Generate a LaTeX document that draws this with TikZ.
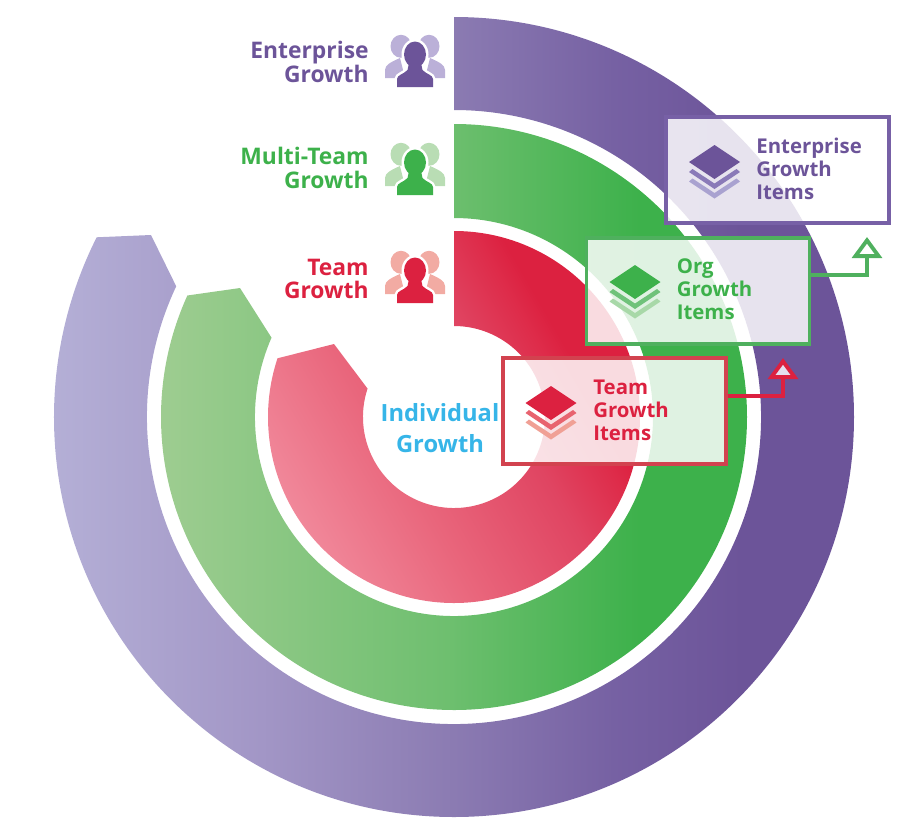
\documentclass[tikz,border=0pt]{standalone}
\usepackage{fontspec}
\setmainfont{Open Sans}
\usetikzlibrary{arrows.meta,positioning}
\definecolor{entcolor}{HTML}{6C5499}
\definecolor{entbar}{HTML}{7760A6}
\definecolor{entlite}{HTML}{BBB0D8}
\definecolor{entmid}{HTML}{8A7AB8}
\definecolor{entpale}{HTML}{A9A2D0}
\definecolor{orgcolor}{HTML}{3DB14B}
\definecolor{orgbar}{HTML}{4FB05E}
\definecolor{orglite}{HTML}{B9DDB4}
\definecolor{orgmid}{HTML}{6FC27A}
\definecolor{orgpale}{HTML}{A8D8A8}
\definecolor{teamcolor}{HTML}{DC2140}
\definecolor{teambar}{HTML}{D2424F}
\definecolor{teamlite}{HTML}{F2ABA3}
\definecolor{teammid}{HTML}{E8636F}
\definecolor{teampale}{HTML}{F0A095}
\definecolor{indcolor}{HTML}{36B5E8}
\pgfdeclarehorizontalshading{ringpurple}{100bp}{rgb(0bp)=(.706,.686,.839);
 rgb(25bp)=(.706,.686,.839); rgb(38bp)=(.635,.588,.776);
 rgb(50bp)=(.545,.482,.698); rgb(60bp)=(.463,.38,.639);
 rgb(68bp)=(.424,.329,.6); rgb(100bp)=(.424,.329,.6)}
\pgfdeclarehorizontalshading{ringgreen}{100bp}{rgb(0bp)=(.627,.804,.573);
 rgb(25bp)=(.627,.804,.573); rgb(50bp)=(.431,.749,.435);
 rgb(66bp)=(.239,.694,.294); rgb(100bp)=(.239,.694,.294)}
\pgfdeclarehorizontalshading{ringred}{100bp}{rgb(0bp)=(.945,.537,.608);
 rgb(25bp)=(.945,.537,.608); rgb(41bp)=(.914,.4,.486);
 rgb(57bp)=(.878,.27,.384); rgb(65bp)=(.87,.172,.29);
 rgb(68bp)=(.863,.129,.251); rgb(100bp)=(.863,.129,.251)}
\tikzset{
 headlabel/.style={anchor=east,align=right,inner sep=0pt,font=\fontsize{13}{13.2}\selectfont\bfseries},
 itemlabel/.style={anchor=west,align=left,inner sep=0pt,font=\fontsize{11.6}{13}\selectfont\bfseries},
 itembox/.style={draw,line width=2.2pt,fill=white,fill opacity=.84,text opacity=1,
  minimum width=4.46cm,minimum height=2.12cm,inner sep=0pt},
 itemline/.style={line width=2.2pt},
 pics/people/.style n args={2}{code={
  \fill[#2] (-14,8.7) ellipse (10.5 and 11.5);
  \fill[#2] (14,8.7) ellipse (10.5 and 11.5);
  \fill[#2] (-30,-23) -- (-30,-15) .. controls (-30,-10) and (-24,-7) .. (-15,-3) -- (-10,-23) -- cycle;
  \fill[#2] (30,-23) -- (30,-15) .. controls (30,-10) and (24,-7) .. (15,-3) -- (10,-23) -- cycle;
  \fill[white] (0,.5) ellipse (13.5 and 15.5);
  \fill[#1,preaction={draw=white,fill=white,line width=2.8pt}] (-18,-32) -- (-18,-24) .. controls (-18,-20) and (-11,-19) .. (-7.5,-15) -- (-6,-8) -- (6,-8) -- (7.5,-15) .. controls (11,-19) and (18,-20) .. (18,-24) -- (18,-32) -- cycle;
  \fill[#1] (0,.5) ellipse (11 and 13);
 }},
 pics/stack/.style n args={3}{code={
  \fill[#3] (-25.5,-19.5) -- (-22,-16.5) -- (0,-31) -- (22,-16.5) -- (25.5,-19.5) -- (0,-36.5) -- cycle;
  \fill[#2] (-25.5,-10) -- (-22,-7) -- (0,-21.5) -- (22,-7) -- (25.5,-10) -- (0,-27) -- cycle;
  \fill[#1] (-25.5,0) -- (0,17) -- (25.5,0) -- (0,-17) -- cycle;
 }}
}
\begin{document}
\begin{tikzpicture}[x=.02cm,y=.02cm]
\useasboundingbox (-454,-416) rectangle (448,417);
\shade[shading=ringpurple] (90:400) arc[start angle=90,end angle=-206.7,radius=400]
 -- (-303,182) -- (154.8:307) arc[start angle=-205.2,end angle=90,radius=307] -- cycle;
\shade[shading=ringgreen] (90:293) arc[start angle=90,end angle=-204.5,radius=293]
 -- (-214,129) -- (156.5:199) arc[start angle=-203.5,end angle=90,radius=199] -- cycle;
\shade[shading=ringred,shading angle=30] (90:186) arc[start angle=90,end angle=-198.4,radius=186]
 -- (-120,73) -- (161.8:91) arc[start angle=-198.2,end angle=90,radius=91] -- cycle;

\node[itembox,draw=entbar] (entbox) at (323.5,247) {};
\node[itembox,draw=orgbar] (orgbox) at (244,126) {};
\node[itembox,draw=teambar] (teambox) at (160.5,6) {};

\coordinate (orgtip) at (413,180);
\coordinate (teamtip) at (329,59);
\draw[itemline,orgbar,-{Triangle[fill=white,length=12pt,width=17pt]}] ([yshift=.32cm]orgbox.east) -| (orgtip);
\draw[itemline,teamcolor,-{Triangle[fill=entlite!40,length=12pt,width=17pt]}] ([yshift=.3cm]teambox.east) -| (teamtip);

\pic at (260.5,255) {stack={entcolor}{entmid}{entpale}};
\pic at (181,135) {stack={orgcolor}{orgmid}{orgpale}};
\pic at (97,14) {stack={teamcolor}{teammid}{teampale}};

\node[itemlabel,text=entcolor] (entitems) at (302,248) {Enterprise\\Growth\\Items};
\node[itemlabel,text=orgcolor] (orgitems) at (222.5,128) {Org\\Growth\\Items};
\node[itemlabel,text=teamcolor] (teamitems) at (139,7) {Team\\Growth\\Items};

\node[headlabel,text=entcolor] (entlabel) at (-85,355) {Enterprise\\Growth};
\node[headlabel,text=orgcolor] (orglabel) at (-85,249) {Multi-Team\\Growth};
\node[headlabel,text=teamcolor] (teamlabel) at (-85,138) {Team\\Growth};

\pic at (-39,362) {people={entcolor}{entlite}};
\pic at (-39,254) {people={orgcolor}{orglite}};
\pic at (-39,146) {people={teamcolor}{teamlite}};

\node[align=center,text=indcolor,font=\fontsize{13.5}{17.5}\selectfont\bfseries] (indlabel) at (-14,-11) {Individual\\Growth};
\end{tikzpicture}
\end{document}
